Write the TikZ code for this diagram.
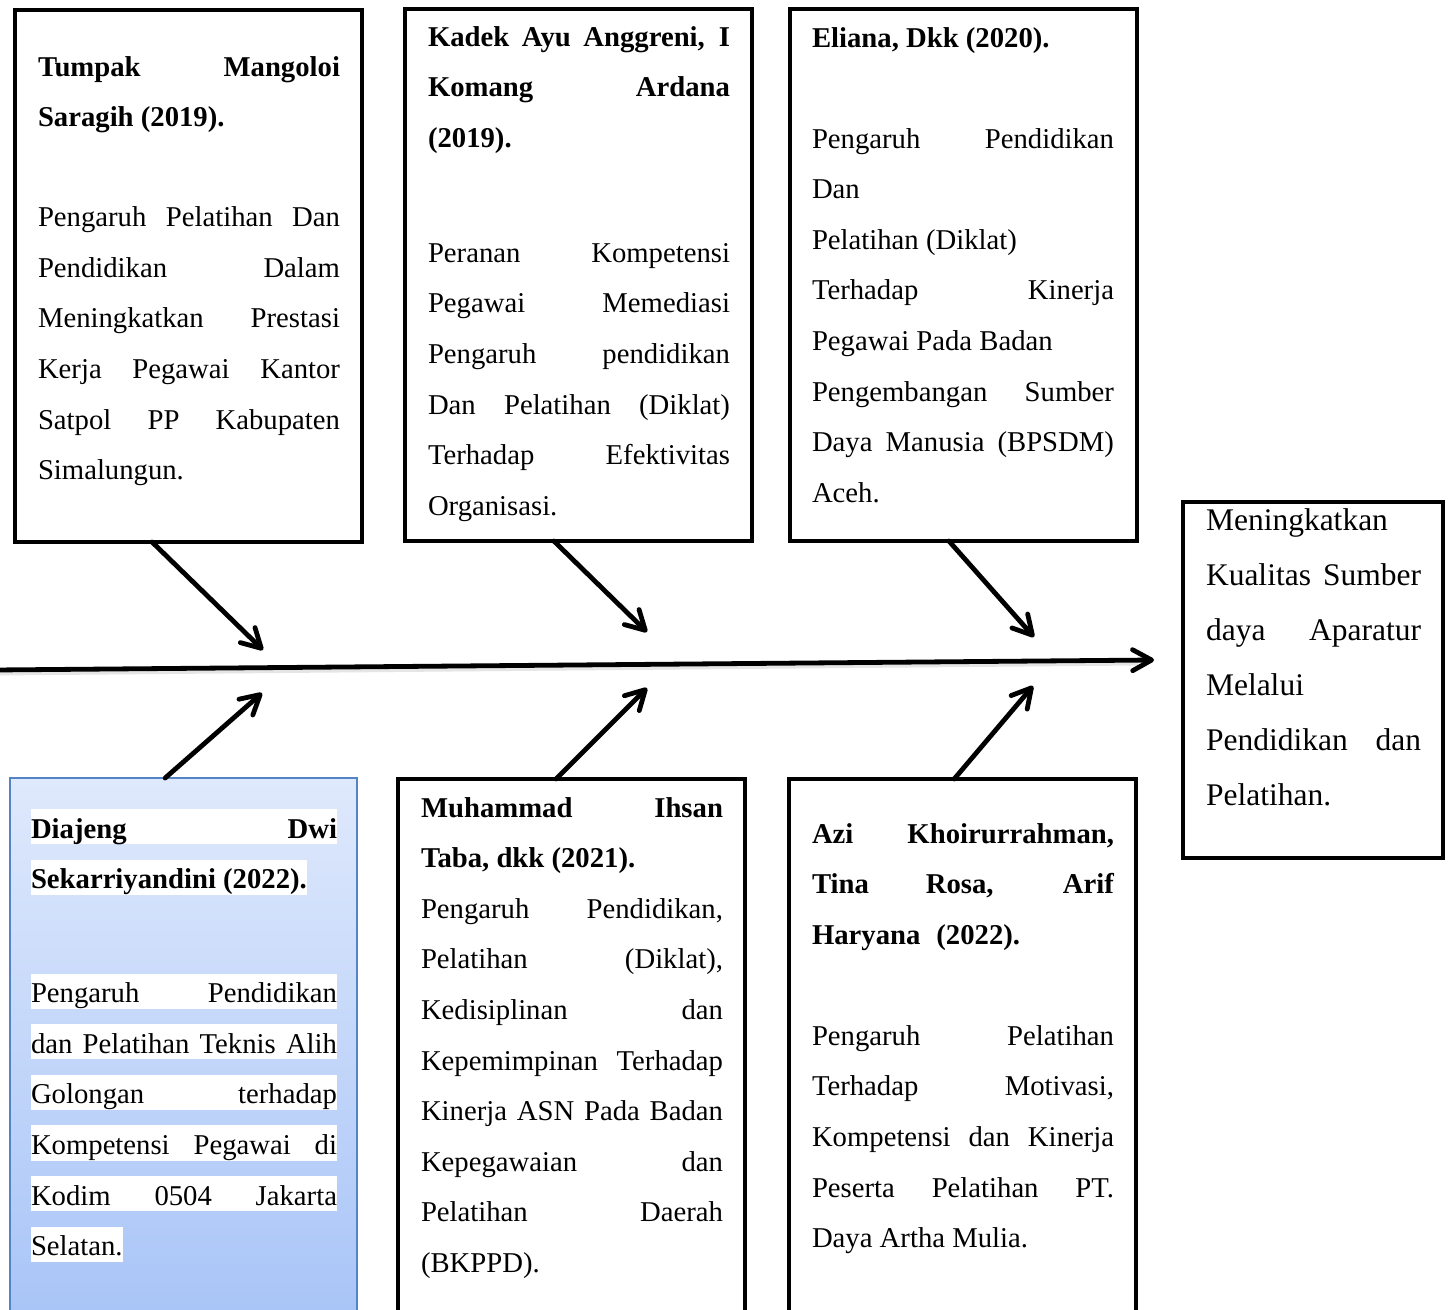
\documentclass[tikz,border=0pt]{standalone}
\usepackage{fontspec}
\setmainfont{Liberation Serif}
\usetikzlibrary{arrows.meta,calc}
\setlength{\parindent}{0pt}
\newcommand\rs{\spaceskip=0pt\xspaceskip=0pt\relax}
\newcommand\jl[1]{\makebox[\linewidth][s]{\rs #1}}
\newcommand\hl[1]{{\setlength{\fboxsep}{0pt}\colorbox{white}{\rule[-6pt]{0pt}{35pt}#1}}}
\definecolor{bluetop}{RGB}{223,233,252}
\definecolor{bluebot}{RGB}{166,195,247}
\definecolor{blueedge}{RGB}{84,132,198}
\begin{document}
\begin{tikzpicture}[x=1pt,y=-1pt,
  box/.style={draw=black, line width=4.5pt, inner sep=0pt, outer sep=0pt, anchor=north west, fill=white},
  bluebox/.style={draw=blueedge, line width=1.5pt, inner sep=0pt, outer sep=0pt, anchor=north west, top color=bluetop, bottom color=bluebot},
  txt/.style={anchor=base west, inner sep=0pt, outer sep=0pt, text width=#1, align=left, font=\fontsize{28.7}{50.6}\selectfont},
  bigtxt/.style={anchor=base west, inner sep=0pt, outer sep=0pt, text width=#1, align=left, font=\fontsize{31.5}{55}\selectfont},
  conn/.style={line width=4.8pt, line cap=round, -{Straight Barb[length=19pt,width=21pt,line cap=round,round]}}]
\path[use as bounding box, clip] (0,0) rectangle (1453,1309);
\fill[white] (0,0) rectangle (1453,1309);

% boxes
\node[box, minimum width=347pt, minimum height=532pt] (b1) at (15,10) {};
\node[box, minimum width=347pt, minimum height=532pt] (b2) at (405,9) {};
\node[box, minimum width=347pt, minimum height=532pt] (b3) at (790,9) {};
\node[box, minimum width=260pt, minimum height=356pt] (rb) at (1183,502) {};
\node[bluebox, minimum width=347pt, minimum height=560pt] (b4) at (10,778) {};
\node[box, minimum width=347pt, minimum height=560pt] (b5) at (398,779) {};
\node[box, minimum width=347pt, minimum height=560pt] (b6) at (789,779) {};

% texts
\node[txt=302pt] (t1) at (38,76) {\rs\jl{\bfseries Tumpak Mangoloi}\\
{\bfseries Saragih (2019).}\\[49.4pt]
\jl{Pengaruh Pelatihan Dan}\\
\jl{Pendidikan Dalam}\\
\jl{Meningkatkan Prestasi}\\
\jl{Kerja Pegawai Kantor}\\
\jl{Satpol PP Kabupaten}\\
Simalungun.};

\node[txt=302pt] (t2) at (428,46) {\rs\jl{\bfseries Kadek Ayu Anggreni, I}\\
\jl{\bfseries Komang Ardana}\\
{\bfseries (2019).}\\[64.4pt]
\jl{Peranan Kompetensi}\\
\jl{Pegawai Memediasi}\\
\jl{Pengaruh pendidikan}\\
\jl{Dan Pelatihan (Diklat)}\\
\jl{Terhadap Efektivitas}\\
Organisasi.};

\node[txt=302pt] (t3) at (812,47) {\rs{\bfseries Eliana, Dkk (2020).}\\[50.4pt]
\jl{Pengaruh Pendidikan}\\
Dan\\
Pelatihan (Diklat)\\
\jl{Terhadap Kinerja}\\
Pegawai Pada Badan\\
\jl{Pengembangan Sumber}\\
\jl{Daya Manusia (BPSDM)}\\
Aceh.};

\node[bigtxt=215pt] (t7) at (1206,530) {\rs Meningkatkan\\
\jl{Kualitas Sumber}\\
\jl{daya Aparatur}\\
Melalui\\
\jl{Pendidikan dan}\\
Pelatihan.};

\node[txt=306pt] (t4) at (31,838) {\rs\hl{\jl{\bfseries Diajeng Dwi}}\\
\hl{\bfseries Sekarriyandini (2022).}\\[63.4pt]
\hl{\jl{Pengaruh Pendidikan}}\\
\hl{\jl{dan Pelatihan Teknis Alih}}\\
\hl{\jl{Golongan terhadap}}\\
\hl{\jl{Kompetensi Pegawai di}}\\
\hl{\jl{Kodim 0504 Jakarta}}\\
\hl{Selatan.}};

\node[txt=302pt] (t5) at (421,817) {\rs\jl{\bfseries Muhammad Ihsan}\\
{\bfseries Taba, dkk (2021).}\\
\jl{Pengaruh Pendidikan,}\\
\jl{Pelatihan (Diklat),}\\
\jl{Kedisiplinan dan}\\
\jl{Kepemimpinan Terhadap}\\
\jl{Kinerja ASN Pada Badan}\\
\jl{Kepegawaian dan}\\
\jl{Pelatihan Daerah}\\
(BKPPD).};

\node[txt=302pt] (t6) at (812,843) {\rs\jl{\bfseries Azi Khoirurrahman,}\\
\jl{\bfseries Tina Rosa, Arif}\\
{\bfseries Haryana\hspace{16pt}(2022).}\\[50.4pt]
\jl{Pengaruh Pelatihan}\\
\jl{Terhadap Motivasi,}\\
\jl{Kompetensi dan Kinerja}\\
\jl{Peserta Pelatihan PT.}\\
Daya Artha Mulia.};

% spine
\coordinate (m0) at (-6,670);
\coordinate (m1) at (1154,660);
\draw[black!10, line width=4pt] (-6,673.5) -- (1138,663.5);
\draw[conn] (m0) -- (m1);

% arrow end points
\coordinate (a1) at (263,650);
\coordinate (a2) at (647,632);
\coordinate (a3) at (1034,637);
\coordinate (c1) at (262,693);
\coordinate (c2) at (647,688);
\coordinate (c3) at (1033,686);

\draw[conn] ($(b1.south west)!0.395!(b1.south east)$) -- (a1);
\draw[conn] ($(b2.south west)!0.429!(b2.south east)$) -- (a2);
\draw[conn] ($(b3.south west)!0.458!(b3.south east)$) -- (a3);
\draw[conn] ($(b4.north west)!0.447!(b4.north east)$) -- (c1);
\draw[conn] ($(b5.north west)!0.455!(b5.north east)$) -- (c2);
\draw[conn] ($(b6.north west)!0.476!(b6.north east)$) -- (c3);
\end{tikzpicture}
\end{document}
